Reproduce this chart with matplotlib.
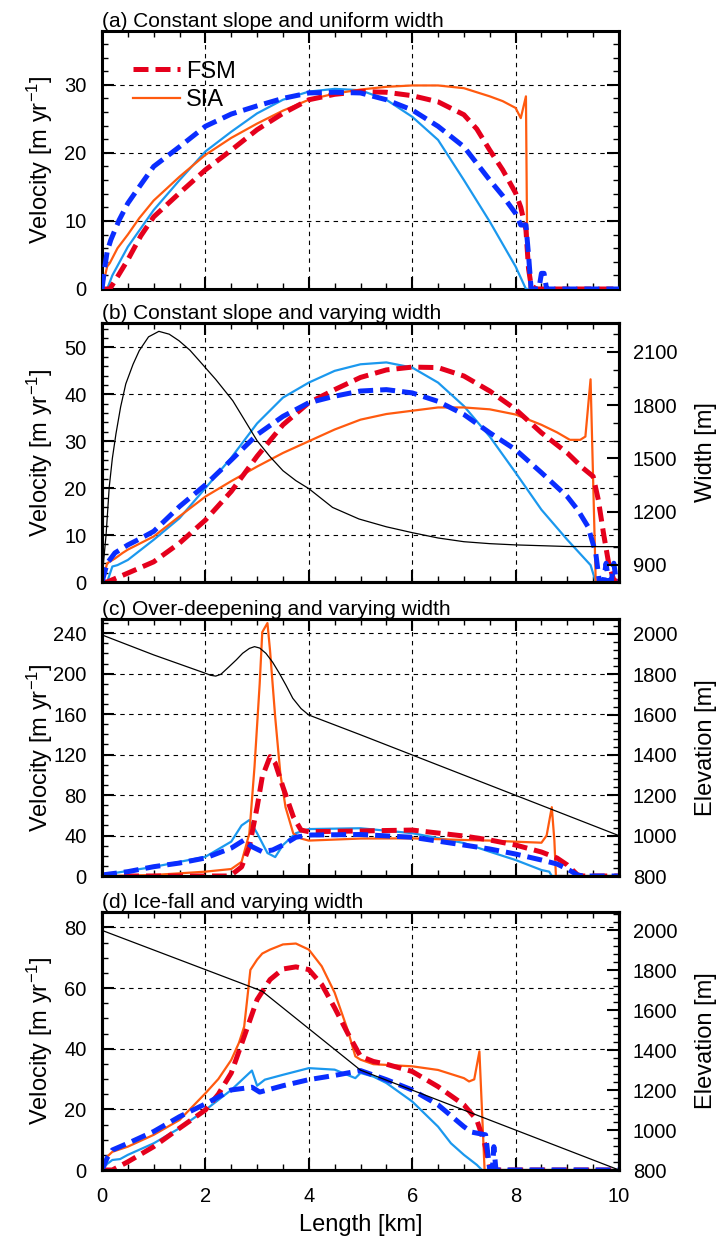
import numpy as np
import matplotlib
matplotlib.use('Agg')
import matplotlib.pyplot as plt
from matplotlib.ticker import MultipleLocator

plt.rcParams['font.family'] = ['Liberation Sans', 'DejaVu Sans']
plt.rcParams['mathtext.fontset'] = 'custom'
plt.rcParams['mathtext.rm'] = 'Liberation Sans'
plt.rcParams['mathtext.it'] = 'Liberation Sans:italic'

# colours
c_fsm = '#e5001c'    # FSM (red dashed)
c_sia = '#ff5a0f'    # SIA (orange)
c_fsm2 = '#0a2dff'   # blue dashed
c_sia2 = '#1b98ee'   # light blue
dash = (0, (3, 1.4))

########################################
# (a) constant slope, uniform width
a_fsm_x = [0, 0.15, 0.3, 0.5, 0.75, 1, 1.5, 2, 2.5, 3, 3.5, 4, 4.5, 5, 5.5, 6, 6.5, 7, 7.25, 7.5,
           7.75, 8, 8.1, 8.2, 8.25, 8.3, 8.4, 10]
a_fsm_v = [0, 0, 1.8, 4.3, 7.8, 10.6, 14.1, 17.5, 20.4, 23.4, 25.8, 27.8, 28.6, 29.0, 28.9, 28.4,
           27.5, 25.6, 23.5, 20.4, 17.5, 14.1, 12, 8.7, 3, 0.5, 0, 0]
a_fsm2_x = [0, 0.05, 0.1, 0.17, 0.33, 0.5, 0.72, 1, 1.5, 2, 2.5, 3, 3.5, 4, 4.5, 5, 5.5, 6, 6.5, 7,
            7.5, 7.75, 8, 8.1, 8.2, 8.25, 8.3, 8.45, 8.5, 8.55, 8.6, 8.65, 10]
a_fsm2_v = [0, 3, 5.5, 7.2, 10.1, 12.6, 15, 18, 20.9, 23.9, 25.7, 26.9, 28, 28.8, 28.9, 28.8, 27.8,
            26.3, 23.9, 20.9, 16, 13.7, 11.1, 9.4, 9.4, 5, 0, 0, 2.3, 2.3, 0, 0, 0]
a_sia_x = [0, 0.1, 0.15, 0.3, 0.5, 0.72, 1, 1.5, 2, 2.5, 3, 3.5, 4, 4.5, 5, 5.5, 6, 6.5, 7, 7.5,
           7.75, 8, 8.1, 8.2, 8.22, 8.27, 10]
a_sia_v = [0, 3.3, 3.8, 6, 8, 10.4, 13, 16.5, 19.7, 22.2, 24.3, 26.2, 27.8, 28.7, 29.3, 29.7, 29.9,
           29.9, 29.5, 28.3, 27.6, 26.6, 25.1, 28.3, 10, 0, 0]
a_sia2_x = [0, 0.1, 0.2, 0.5, 1, 1.5, 2, 2.5, 3, 3.5, 4, 4.5, 5, 5.5, 6, 6.5, 7, 7.5, 8, 8.2, 10]
a_sia2_v = [0, 0, 2, 6.2, 11.6, 16, 20.2, 23.1, 25.8, 27.8, 29.0, 29.4, 29.2, 27.8, 25.3, 21.9, 16,
            9.9, 3.3, 0, 0]

########################################
# (b) constant slope, varying width
b_width_x = [0, 0.02, 0.08, 0.14, 0.2, 0.27, 0.36, 0.46, 0.6, 0.72, 0.9, 1.1, 1.3, 1.49, 1.7, 1.88,
             2.2, 2.53, 2.75, 3, 3.25, 3.5, 3.75, 4, 4.46, 4.97, 5.5, 6, 6.5, 7, 7.5, 8, 9, 10]
b_width_m = [830, 885, 1074, 1339, 1500, 1639, 1790, 1920, 2030, 2107, 2185, 2216, 2200, 2163, 2110,
             2051, 1945, 1825, 1720, 1600, 1510, 1431, 1375, 1330, 1224, 1159, 1115, 1082, 1052,
             1031, 1020, 1013, 1004, 1003]
b_fsm_x = [0, 0.1, 0.5, 1, 1.5, 2, 2.5, 3, 3.5, 4, 4.5, 5, 5.5, 6, 6.5, 7, 7.5, 8, 8.5, 9, 9.3, 9.5,
           9.6, 9.7, 9.8, 9.9, 10]
b_fsm_v = [0, 0, 1.9, 4.3, 8.3, 13.2, 19.3, 26.8, 33.5, 38.2, 41, 43.6, 45.2, 45.8, 45.7, 43.9, 40.7,
           36.8, 31.8, 27.5, 24.3, 22.5, 17.5, 10.4, 4, 0.4, 0]
b_fsm2_x = [0, 0.05, 0.1, 0.25, 0.5, 0.75, 1, 1.5, 2, 2.5, 3, 3.5, 4, 4.5, 5, 5.5, 6, 6.5, 7, 7.5, 8,
            8.5, 9, 9.2, 9.4, 9.55, 9.62, 9.7, 9.75, 9.8, 9.85, 9.9, 9.95, 10]
b_fsm2_v = [0, 2, 4, 6.2, 7.9, 9.3, 10.8, 16.1, 20.7, 26, 31.4, 35.3, 38.2, 39.6, 40.7, 41, 40.3,
            38.5, 35.7, 31.8, 28.2, 23.3, 18.2, 15.4, 11.8, 6.2, 0, 0, 4, 0, 0, 4, 0, 0]
b_sia_x = [0, 0.1, 0.25, 0.4, 0.5, 1, 1.5, 2, 2.5, 3, 3.5, 4, 4.5, 5, 5.5, 6, 6.5, 7, 7.5, 8, 8.5,
           8.8, 9.05, 9.25, 9.35, 9.45, 9.55, 10]
b_sia_v = [0, 4, 5, 6.2, 6.9, 9.7, 14, 18.2, 21.5, 24.6, 27.5, 30, 32.5, 34.6, 35.8, 36.5, 37.2, 37.2,
           36.8, 35.7, 33.5, 31.9, 30.3, 30.3, 31, 43.2, 0, 0]
b_sia2_x = [0, 0.1, 0.2, 0.3, 0.5, 1, 1.5, 2, 2.5, 3, 3.5, 4, 4.5, 5, 5.5, 6, 6.5, 7, 7.5, 8, 8.5, 9,
            9.3, 9.45, 9.55, 10]
b_sia2_v = [0, 0, 3.3, 3.6, 4.7, 9, 13.6, 20, 26.5, 33.8, 39.3, 42.5, 45, 46.4, 46.8, 45.7, 42.5, 37.5,
            31, 23.3, 15.4, 9, 5.4, 3.6, 0, 0]

########################################
# (c) over-deepening, varying width
c_elev_x = [0, 1, 2, 2.1, 2.2, 2.3, 2.46, 2.6, 2.72, 2.85, 2.95, 3.05, 3.17, 3.3, 3.43, 3.56, 3.69,
            3.85, 4, 5, 6, 7, 8, 9, 10]
c_elev_m = [1995, 1896, 1805, 1795, 1791, 1800, 1838, 1872, 1904, 1928, 1937, 1930, 1904, 1860, 1805,
            1745, 1681, 1630, 1598, 1500, 1400, 1300, 1200, 1100, 1000]
c_fsm_x = [0, 2.4, 2.5, 2.7, 2.85, 3.0, 3.1, 3.25, 3.35, 3.5, 3.7, 3.85, 4, 5, 6, 7, 7.5, 8, 8.5, 8.8,
           9, 9.2, 9.3, 10]
c_fsm_v = [0, 0, 1, 9, 29, 68, 98, 118, 111.6, 88, 58.6, 45.4, 43.8, 44.5, 45.4, 39.5, 35.6, 30.6,
           23.7, 17.8, 10.9, 1, 0, 0]
c_fsm2_x = [0, 0.5, 1, 1.5, 2, 2.5, 2.75, 2.9, 3.1, 3.3, 3.5, 3.75, 4, 5, 6, 7, 7.5, 8, 8.5, 8.8, 9,
            9.2, 9.3, 10]
c_fsm2_v = [1, 4.3, 9.2, 12.8, 17.8, 27.6, 35.6, 29, 24, 25.7, 30.6, 38.3, 40.5, 41, 38.3, 30.6, 26.7,
            21.7, 15.8, 11.9, 6.9, 1, 0, 0]
c_sia_x = [0, 1, 2, 2.5, 2.7, 2.85, 2.95, 3.05, 3.1, 3.2, 3.25, 3.35, 3.45, 3.55, 3.7, 3.85, 4, 5, 6,
           7, 7.5, 8, 8.5, 8.6, 8.7, 8.75, 8.78, 10]
c_sia_v = [0, 1, 4.3, 6.9, 14, 42, 108, 190, 241, 250, 223, 157, 101, 68, 42, 37, 35, 37, 37.2, 35.6,
           35, 33.9, 32.9, 40, 68, 35, 0, 0]
c_sia2_x = [0, 1, 2, 2.5, 2.7, 2.85, 3, 3.2, 3.35, 3.5, 3.75, 4, 5, 6, 7, 7.5, 8, 8.5, 8.65, 8.7, 10]
c_sia2_v = [1, 9, 19, 34, 50, 55.3, 42.3, 22.7, 18.7, 30.6, 42.3, 46.4, 47.2, 42.3, 32.6, 24, 15.8,
            5.9, 4.3, 0, 0]

########################################
# (d) ice-fall, varying width
d_elev_x = [0, 2.9, 3.1, 5, 10]
d_elev_m = [2000, 1715, 1695, 1300, 800]
d_fsm_x = [0, 0.2, 0.5, 1, 1.5, 2, 2.25, 2.5, 2.75, 3, 3.25, 3.5, 3.75, 4, 4.25, 4.5, 4.75, 5, 5.25,
           5.5, 6, 6.5, 7, 7.25, 7.4, 7.5, 7.6, 10]
d_fsm_v = [0, 0, 2.7, 7.7, 13.8, 19.8, 25, 32, 44, 56.2, 62.8, 66.3, 67, 66.1, 61.2, 53.5, 45.2, 37.5,
           35.8, 34.9, 32.5, 27.5, 21.5, 16.5, 8.8, 1, 0, 0]
d_fsm2_x = [0, 0.1, 0.2, 0.5, 1, 1.5, 2, 2.5, 2.9, 3.05, 3.5, 4, 4.5, 5, 5.5, 6, 6.5, 7, 7.15, 7.3,
            7.42, 7.5, 7.55, 7.58, 7.62, 10]
d_fsm2_v = [0, 4, 6.6, 8.8, 12.7, 17.6, 21.8, 26.4, 27.3, 25.7, 27.8, 29.8, 31.2, 32.8, 29.8, 26.4,
            21.5, 14.3, 12.5, 12, 11.6, 0, 0, 7.7, 0, 0]
d_sia_x = [0, 0.1, 0.2, 0.5, 1, 1.5, 2, 2.25, 2.5, 2.65, 2.75, 2.8, 2.87, 3, 3.1, 3.25, 3.5, 3.75, 4,
           4.25, 4.5, 4.75, 4.9, 5, 5.25, 6, 6.5, 7, 7.1, 7.2, 7.3, 7.4, 10]
d_sia_v = [0, 4.4, 6, 7.7, 11.6, 16.5, 25.3, 30, 36.3, 42, 47.3, 55, 66, 69.4, 71.4, 72.7, 74.4, 74.7,
           72.7, 67.2, 58.5, 46.3, 37.5, 36.4, 34.9, 34.2, 33, 30.3, 29.2, 29.9, 39.1, 0, 0]
d_sia2_x = [0, 0.1, 0.2, 0.35, 0.5, 1, 1.5, 2, 2.5, 2.9, 3.0, 3.15, 3.5, 4, 4.5, 4.9, 5, 5.25, 5.5, 6,
            6.5, 6.75, 7, 7.25, 7.35, 10]
d_sia2_v = [0, 2, 3.3, 3.6, 5, 8.8, 13.8, 19.8, 26.4, 32.8, 27.8, 29.8, 31.4, 33.6, 33.1, 30.3, 32,
            30.8, 28.7, 22.6, 14.3, 8.8, 5, 1.7, 0, 0]

titles = ['(a) Constant slope and uniform width', '(b) Constant slope and varying width',
          '(c) Over-deepening and varying width', '(d) Ice-fall and varying width']

########################################
fig = plt.figure(figsize=(7.21, 12.43), dpi=100)
W, H = 721., 1243.
left, right = 102, 619
boxes = [(31, 289), (323, 582), (619, 876), (912, 1170)]
axs = [fig.add_axes([left/W, 1-b/H, (right-left)/W, (b-t)/H]) for t, b in boxes]


def style(ax, ylim, ymaj, ymin, right_ticks=True):
    ax.set_xlim(0, 10)
    ax.set_ylim(*ylim)
    ax.xaxis.set_major_locator(MultipleLocator(2))
    ax.xaxis.set_minor_locator(MultipleLocator(0.5))
    ax.yaxis.set_major_locator(MultipleLocator(ymaj))
    ax.yaxis.set_minor_locator(MultipleLocator(ymin))
    ax.tick_params(which='both', direction='in', top=True, right=right_ticks, labelsize=14.5)
    ax.tick_params(which='major', length=8.5, width=1.5)
    ax.tick_params(which='minor', length=4.5, width=1.0)
    ax.tick_params(axis='y', pad=11)
    ax.tick_params(axis='x', pad=12)
    for s in ax.spines.values():
        s.set_linewidth(2.2)
    ax.grid(which='major', color='k', linestyle=(0, (4, 4)), linewidth=0.8)
    ax.set_axisbelow(True)
    ax.set_ylabel(r'Velocity [m yr$^{-1}$]', fontsize=17)
    ax.yaxis.set_label_coords(-0.09, 0.5)


def style_twin(ax2, ylim, ymaj, ymin, label):
    ax2.set_ylim(*ylim)
    ax2.yaxis.set_major_locator(MultipleLocator(ymaj))
    ax2.yaxis.set_minor_locator(MultipleLocator(ymin))
    ax2.tick_params(which='both', direction='in', labelsize=14.5, pad=10)
    ax2.tick_params(which='major', length=8.5, width=1.5)
    ax2.tick_params(which='minor', length=4.5, width=1.0)
    for s in ax2.spines.values():
        s.set_linewidth(2.2)
    ax2.set_ylabel(label, fontsize=17)
    ax2.yaxis.set_label_coords(1.147, 0.5)


def curves(ax, sia2, sia, fsm, fsm2):
    ax.plot(*sia2, color=c_sia2, lw=1.6, zorder=3)
    ax.plot(*sia, color=c_sia, lw=1.6, zorder=3, label='SIA')
    ax.plot(*fsm, color=c_fsm, lw=3.6, linestyle=dash, zorder=4, label='FSM')
    ax.plot(*fsm2, color=c_fsm2, lw=3.6, linestyle=dash, zorder=5)


# (a)
ax = axs[0]
curves(ax, (a_sia2_x, a_sia2_v), (a_sia_x, a_sia_v), (a_fsm_x, a_fsm_v), (a_fsm2_x, a_fsm2_v))
style(ax, (0, 37.9), 10, 2)
h, l = ax.get_legend_handles_labels()
ax.legend(h[::-1], l[::-1], loc='upper left', bbox_to_anchor=(0.06, 0.885), frameon=False,
          fontsize=17, handlelength=2.0, handletextpad=0.25, labelspacing=0.28,
          borderpad=0, borderaxespad=0)

# (b)
ax = axs[1]
curves(ax, (b_sia2_x, b_sia2_v), (b_sia_x, b_sia_v), (b_fsm_x, b_fsm_v), (b_fsm2_x, b_fsm2_v))
style(ax, (0, 55.2), 10, 2, right_ticks=False)
ax2 = ax.twinx()
ax2.plot(b_width_x, b_width_m, color='k', lw=0.9)
style_twin(ax2, (804, 2263), 300, 100, 'Width [m]')

# (c)
ax = axs[2]
curves(ax, (c_sia2_x, c_sia2_v), (c_sia_x, c_sia_v), (c_fsm_x, c_fsm_v), (c_fsm2_x, c_fsm2_v))
style(ax, (0, 254), 40, 10, right_ticks=False)
ax2 = ax.twinx()
ax2.plot(c_elev_x, c_elev_m, color='k', lw=0.9)
style_twin(ax2, (800, 2074), 200, 40, 'Elevation [m]')

# (d)
ax = axs[3]
curves(ax, (d_sia2_x, d_sia2_v), (d_sia_x, d_sia_v), (d_fsm_x, d_fsm_v), (d_fsm2_x, d_fsm2_v))
style(ax, (0, 85.1), 20, 5, right_ticks=False)
ax2 = ax.twinx()
ax2.plot(d_elev_x, d_elev_m, color='k', lw=0.9)
style_twin(ax2, (800, 2092), 200, 40, 'Elevation [m]')
ax.set_xlabel('Length [km]', fontsize=17, labelpad=6)

for i, ax in enumerate(axs):
    ax.set_title(titles[i], loc='left', fontsize=15, pad=3)
    if i < 3:
        ax.tick_params(labelbottom=False)

fig.savefig('out.png', dpi=100)
